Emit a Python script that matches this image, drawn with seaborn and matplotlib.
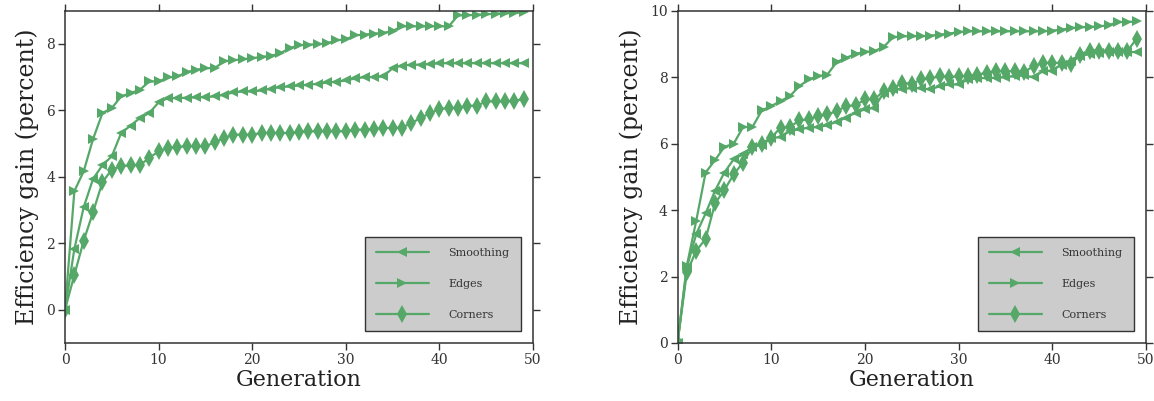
import numpy as np
import pandas as pd
import matplotlib
matplotlib.use("Agg")
import matplotlib.pyplot as plt
import seaborn as sns

generations = list(range(50))
series_names = ["Smoothing", "Edges", "Corners"]
series_markers = ["<", ">", "d"]

# Run A (left panel)
smoothing_a = [0, 1.83, 3.09, 3.94, 4.35, 4.62, 5.32, 5.54, 5.77, 5.92,
               6.24, 6.37, 6.37, 6.38, 6.39, 6.40, 6.42, 6.47, 6.54, 6.57,
               6.57, 6.60, 6.65, 6.70, 6.72, 6.75, 6.77, 6.80, 6.84, 6.86,
               6.90, 6.96, 7.00, 7.00, 7.02, 7.27, 7.35, 7.37, 7.38, 7.39,
               7.42, 7.42, 7.42, 7.42, 7.42, 7.42, 7.42, 7.42, 7.42, 7.42]
edges_a = [0, 3.57, 4.17, 5.14, 5.92, 6.07, 6.42, 6.52, 6.62, 6.87,
           6.87, 6.99, 7.02, 7.15, 7.22, 7.27, 7.27, 7.48, 7.51, 7.54,
           7.57, 7.61, 7.64, 7.72, 7.87, 7.96, 7.98, 7.99, 8.02, 8.11,
           8.14, 8.26, 8.28, 8.31, 8.33, 8.39, 8.53, 8.53, 8.53, 8.53,
           8.53, 8.53, 8.86, 8.86, 8.88, 8.89, 8.91, 8.92, 8.93, 8.95]
corners_a = [0, 1.05, 2.08, 2.94, 3.84, 4.22, 4.32, 4.35, 4.35, 4.57,
             4.77, 4.87, 4.90, 4.92, 4.92, 4.92, 5.04, 5.17, 5.27, 5.27,
             5.27, 5.32, 5.32, 5.32, 5.32, 5.34, 5.37, 5.37, 5.37, 5.37,
             5.37, 5.42, 5.42, 5.44, 5.47, 5.47, 5.48, 5.62, 5.77, 5.92,
             6.04, 6.07, 6.07, 6.14, 6.14, 6.27, 6.27, 6.27, 6.28, 6.35]

# Run B (right panel)
smoothing_b = [0, 2.28, 3.28, 3.90, 4.58, 5.13, 5.53, 5.68, 5.90, 5.96,
               6.16, 6.20, 6.38, 6.43, 6.48, 6.50, 6.55, 6.66, 6.78, 6.93,
               7.03, 7.08, 7.53, 7.63, 7.63, 7.68, 7.66, 7.63, 7.73, 7.78,
               7.78, 7.93, 7.96, 7.98, 7.98, 8.00, 8.03, 8.05, 8.00, 8.18,
               8.20, 8.38, 8.48, 8.63, 8.70, 8.73, 8.76, 8.76, 8.76, 8.75]
edges_b = [0, 2.33, 3.68, 5.13, 5.50, 5.90, 6.00, 6.50, 6.50, 7.00,
           7.13, 7.28, 7.43, 7.73, 7.93, 8.03, 8.08, 8.46, 8.58, 8.70,
           8.76, 8.78, 8.91, 9.20, 9.23, 9.23, 9.23, 9.25, 9.28, 9.31,
           9.36, 9.38, 9.38, 9.38, 9.38, 9.38, 9.38, 9.38, 9.38, 9.38,
           9.40, 9.43, 9.48, 9.50, 9.51, 9.53, 9.56, 9.66, 9.66, 9.68]
corners_b = [0, 2.13, 2.78, 3.13, 4.20, 4.60, 5.08, 5.43, 5.90, 6.00,
             6.18, 6.48, 6.50, 6.70, 6.73, 6.83, 6.88, 6.98, 7.13, 7.15,
             7.33, 7.33, 7.58, 7.66, 7.83, 7.80, 7.93, 7.96, 8.03, 8.00,
             8.03, 8.03, 8.08, 8.13, 8.18, 8.18, 8.18, 8.16, 8.33, 8.43,
             8.43, 8.43, 8.40, 8.68, 8.78, 8.80, 8.80, 8.78, 8.78, 9.16]

x_ticks = [0, 10, 20, 30, 40, 50]
y_ticks_a = [0, 2, 4, 6, 8]
y_ticks_b = [0, 2, 4, 6, 8, 10]

sns.set_style("white")
plt.rcParams["font.family"] = ["DejaVu Serif"]

green = sns.color_palette("deep")[2]
ink = "#333333"

fig = plt.figure(figsize=(11.54, 4.01), dpi=100)
ax_a = fig.add_axes([65 / 1154, 1 - 343 / 401, 468 / 1154, 332.3 / 401])
ax_b = fig.add_axes([677.5 / 1154, 1 - 343 / 401, 468.5 / 1154, 332.3 / 401])


def draw_panel(ax, values, ylim, yticks):
    for name, marker, vals in zip(series_names, series_markers, values):
        frame = pd.DataFrame({"Generation": generations, "gain": vals})
        ms = 9 if marker == "d" else 7.5
        sns.lineplot(data=frame, x="Generation", y="gain", ax=ax,
                     color=green, marker=marker, markersize=ms,
                     markeredgewidth=0, linewidth=1.6, label=name)
    ax.set_xlim(0, 50)
    ax.set_ylim(*ylim)
    ax.set_xticks(x_ticks)
    ax.set_yticks(yticks)
    ax.set_xlabel("Generation", fontsize=16, color="#222222", labelpad=2)
    ax.set_ylabel("Efficiency gain (percent)", fontsize=17, color="#222222",
                  labelpad=5)
    ax.tick_params(which="both", direction="out", length=5, width=1,
                   color=ink, labelsize=10, labelcolor="#333333", pad=2,
                   top=True, right=True, bottom=True, left=True)
    for side in ax.spines.values():
        side.set_visible(True)
        side.set_color(ink)
        side.set_linewidth(1.1)
    leg = ax.legend(loc="lower right", bbox_to_anchor=(0.974, 0.036),
                    borderaxespad=0, fontsize=8, frameon=True,
                    fancybox=False, handlelength=4.7, handletextpad=1.8,
                    labelspacing=1.9, borderpad=1.0)
    frame_patch = leg.get_frame()
    frame_patch.set_facecolor("#cccccc")
    frame_patch.set_edgecolor(ink)
    frame_patch.set_linewidth(1.0)
    frame_patch.set_alpha(1.0)
    for text in leg.get_texts():
        text.set_color("#333333")


draw_panel(ax_a, [smoothing_a, edges_a, corners_a], (-1, 9), y_ticks_a)
draw_panel(ax_b, [smoothing_b, edges_b, corners_b], (0, 10), y_ticks_b)

fig.savefig("out.png", dpi=100)
